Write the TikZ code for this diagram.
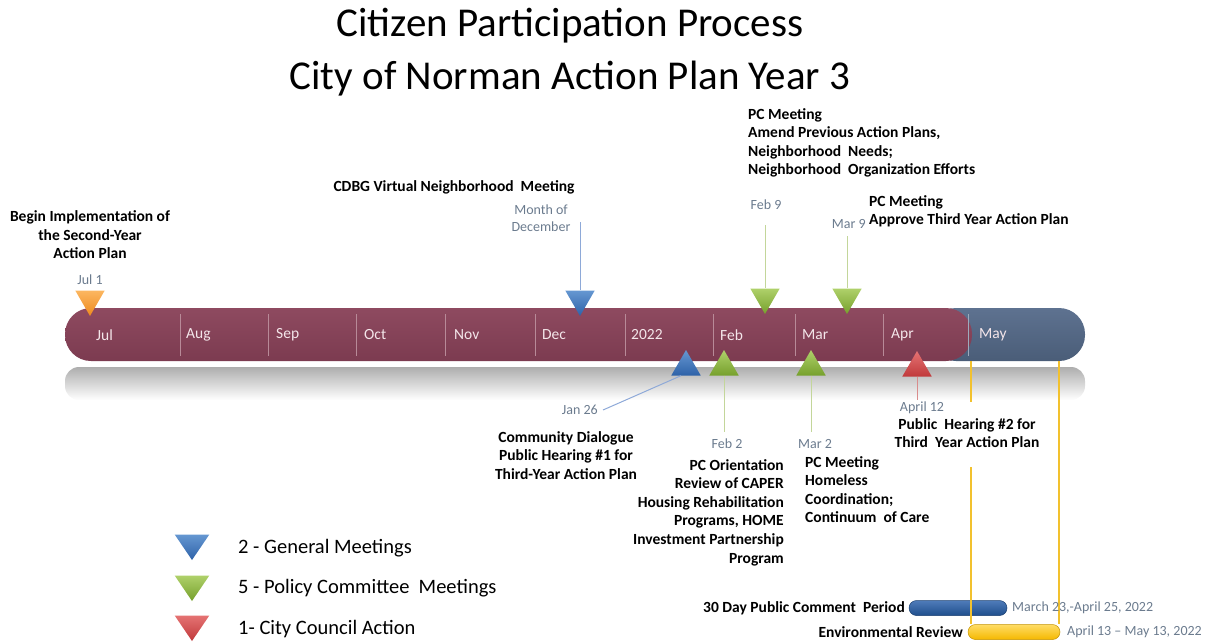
\documentclass[tikz,border=0pt]{standalone}
\usepackage{fontspec}
\setmainfont{Carlito}
\usetikzlibrary{shapes.geometric}
\definecolor{barmaroon}{HTML}{7C3B50}
\definecolor{barmaroonlt}{HTML}{8E4A60}
\definecolor{barblue}{HTML}{4A5D78}
\definecolor{barbluelt}{HTML}{5E7290}
\definecolor{monthtxt}{HTML}{F4E6EA}
\definecolor{divider}{HTML}{B88A98}
\definecolor{dategray}{HTML}{6B7B8E}
\definecolor{triblue}{HTML}{3F7DC6}
\definecolor{triblueD}{HTML}{2E62A8}
\definecolor{trigreen}{HTML}{9BC545}
\definecolor{trigreenD}{HTML}{76A02C}
\definecolor{triorange}{HTML}{FBAA45}
\definecolor{triorangeD}{HTML}{EE8A1E}
\definecolor{trired}{HTML}{E05A5A}
\definecolor{triredD}{HTML}{C0393B}
\definecolor{lineblue}{HTML}{8EA9D8}
\definecolor{linegreen}{HTML}{C3D69A}
\definecolor{linered}{HTML}{D98C8C}
\definecolor{lineyellow}{HTML}{F2C12E}
\definecolor{pcblue}{HTML}{1F4E8C}
\definecolor{pcbluelt}{HTML}{4F7BBA}
\definecolor{envyel}{HTML}{F5B800}
\definecolor{envyellt}{HTML}{FFDD66}
\begin{document}
\begin{tikzpicture}[x=1pt,y=-1pt,
  lbl/.style={font=\fontsize{15.5}{18.6}\selectfont\bfseries, inner sep=0pt},
  datelbl/.style={font=\fontsize{14}{17}\selectfont, text=dategray, inner sep=0pt},
  monthlbl/.style={font=\fontsize{15.5}{18}\selectfont, text=monthtxt, anchor=west, inner sep=0pt},
  legendtxt/.style={font=\fontsize{20.5}{23}\selectfont, anchor=west, inner sep=0pt},
  tri/.style={regular polygon, regular polygon sides=3, minimum size=34pt, inner sep=0pt},
  tridown/.style={tri, shape border rotate=180},
  bluetri/.style={top color=triblue!80!white, bottom color=triblueD},
  greentri/.style={top color=trigreen!80!white, bottom color=trigreenD},
  redtri/.style={top color=trired!85!white, bottom color=triredD},
  orangetri/.style={top color=triorange!85!white, bottom color=triorangeD},
  conn/.style={line width=1pt},
  divline/.style={draw=divider, line width=0.8pt}
]
\useasboundingbox (0,0) rectangle (1214,643);

% Title
\node[font=\fontsize{41}{53}\selectfont, align=center, inner sep=0pt] (title) at (570,52)
  {Citizen Participation Process\\City of Norman Action Plan Year 3};

% Reflection
\shade[top color=black!32, bottom color=white, rounded corners=14pt] (65,367) rectangle (1085,400);

% Bar
\shade[top color=barbluelt, bottom color=barblue, rounded corners=26pt] (930,308) rectangle (1085,361);
\shade[top color=barmaroonlt, bottom color=barmaroon, rounded corners=26pt] (65,308) rectangle (972,361);

% dividers
\foreach \x in {180,268,356,445,535,625,713,795,883}{
  \draw[divline] (\x,314) -- (\x,356);
}
\draw[draw=barbluelt!60!white, line width=0.8pt] (968,314) -- (968,356);

% months
\node[monthlbl] (mJul) at (96,335) {Jul};
\node[monthlbl] (mAug) at (186,335) {Aug};
\node[monthlbl] (mSep) at (276,335) {Sep};
\node[monthlbl] (mOct) at (364,335) {Oct};
\node[monthlbl] (mNov) at (454,335) {Nov};
\node[monthlbl] (mDec) at (542,335) {Dec};
\node[monthlbl] (m2022) at (631,335) {2022};
\node[monthlbl] (mFeb) at (720,335) {Feb};
\node[monthlbl] (mMar) at (802,335) {Mar};
\node[monthlbl] (mApr) at (891,335) {Apr};
\node[monthlbl] (mMay) at (979,335) {May};

% yellow period lines
\coordinate (yA1) at (971,361);
\coordinate (yA2) at (971,402);
\coordinate (yA3) at (971,467);
\coordinate (yB1) at (1059,361);
\node[draw=envyel!80!black, line width=0.5pt, top color=envyellt, bottom color=envyel, rounded corners=7.5pt, minimum width=92pt, minimum height=15pt, inner sep=0pt] (envbar) at (1014,632) {};
\node[draw=pcblue!80!black, line width=0.5pt, top color=pcbluelt, bottom color=pcblue, rounded corners=7.5pt, minimum width=98pt, minimum height=15pt, inner sep=0pt] (pcbar) at (958,608) {};
\draw[lineyellow, line width=1.3pt] (yA1) -- (yA2);
\draw[lineyellow, line width=1.3pt] (yA3) -- (envbar.north west -| yA3);
\draw[lineyellow, line width=1.3pt] (yB1) -- (envbar.north east -| yB1);

% Jul 1
\node[tridown, orangetri] (tJul) at (90,299) {};
\node[datelbl] (dJul) at (90,280) {Jul 1};
\node[lbl, align=center] (lJul) at (90,235) {Begin Implementation of\\the Second-Year\\Action Plan};

% Dec
\node[tridown, bluetri] (tDec) at (580,299) {};
\coordinate (cDec) at (580,222);
\draw[lineblue, conn] (cDec) -- (tDec.90);
\node[datelbl, align=center] (dDec) at (541,218) {Month of\\December};
\node[lbl] (lDec) at (454,187) {CDBG Virtual Neighborhood\ \ Meeting};

% Feb 9
\node[tridown, greentri] (tFeb9) at (765,297) {};
\coordinate (cFeb9) at (765,225);
\draw[linegreen, conn] (cFeb9) -- (tFeb9.90);
\node[datelbl] (dFeb9) at (766,205) {Feb 9};
\node[lbl, align=left, anchor=north west] (lFeb9) at (748,108) {PC Meeting\\Amend Previous Action Plans,\\Neighborhood\ \ Needs;\\Neighborhood\ \ Organization Efforts};

% Mar 9
\node[tridown, greentri] (tMar9) at (847,297) {};
\coordinate (cMar9) at (847,236);
\draw[linegreen, conn] (cMar9) -- (tMar9.90);
\node[datelbl, anchor=east] (dMar9) at (866,224) {Mar 9};
\node[lbl, align=left, anchor=north west] (lMar9) at (869,195) {PC Meeting\\Approve Third Year Action Plan};

% Jan 26
\node[tri, bluetri] (tJan) at (686,367) {};
\coordinate (cJan) at (603,410);
\draw[lineblue, conn] (tJan.-120) -- (cJan);
\node[datelbl, anchor=east] (dJan) at (598,410) {Jan 26};
\node[lbl, align=center, anchor=north] (lJan) at (566,431) {Community Dialogue\\Public Hearing \#1 for\\Third-Year Action Plan};

% Feb 2
\node[tri, greentri] (tFeb2) at (724,367) {};
\coordinate (cFeb2) at (724,432);
\draw[linegreen, conn] (tFeb2.-90) -- (cFeb2);
\node[datelbl] (dFeb2) at (727,444) {Feb 2};
\node[lbl, align=right, anchor=north east] (lFeb2) at (784,459) {PC Orientation\\Review of CAPER\\Housing Rehabilitation\\Programs, HOME\\Investment Partnership\\Program};

% Mar 2
\node[tri, greentri] (tMar2) at (811,367) {};
\coordinate (cMar2) at (811,432);
\draw[linegreen, conn] (tMar2.-90) -- (cMar2);
\node[datelbl] (dMar2) at (815,444) {Mar 2};
\node[lbl, align=left, anchor=north west] (lMar2) at (805,456) {PC Meeting\\Homeless\\Coordination;\\Continuum\ \ of Care};

% April 12
\node[tri, redtri] (tApr) at (917,368) {};
\coordinate (cApr) at (917,400);
\draw[linered, conn] (tApr.-90) -- (cApr);
\node[datelbl] (dApr) at (922,408) {April 12};
\node[lbl, align=center, anchor=north] (lApr) at (967,418) {Public\ \ Hearing \#2 for\\Third\ \ Year Action Plan};

% bottom period labels
\node[lbl, anchor=east] (lPC) at (905,608) {30 Day Public Comment\ \ Period};
\node[datelbl, anchor=west] (dPC) at (1012,608) {March 23,-April 25, 2022};
\node[lbl, anchor=east] (lEnv) at (963,632) {Environmental Review};
\node[datelbl, anchor=west] (dEnv) at (1067,632) {April 13 -- May 13, 2022};

% Legend
\node[tridown, bluetri, minimum size=40pt, yscale=0.85] (kBlue) at (192,543) {};
\node[tridown, greentri, minimum size=40pt, yscale=0.85] (kGreen) at (192,584) {};
\node[tridown, redtri, minimum size=40pt, yscale=0.85] (kRed) at (192,624) {};
\node[legendtxt] (tBlue) at (238,548) {2 - General Meetings};
\node[legendtxt] (tGreen) at (238,588) {5 - Policy Committee\ \ Meetings};
\node[legendtxt] (tRed) at (238,629) {1- City Council Action};
\end{tikzpicture}
\end{document}
